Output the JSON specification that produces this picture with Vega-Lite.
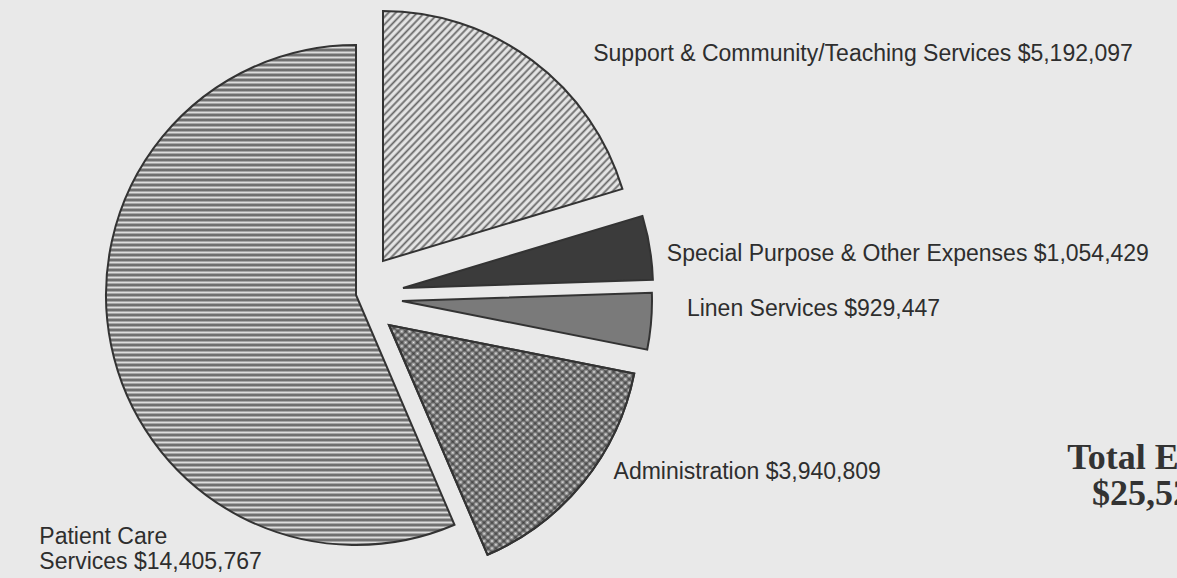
{
  "$schema": "https://vega.github.io/schema/vega-lite/v6.json",
  "width": 712,
  "height": 566,
  "autosize": {"type": "none"},
  "padding": {"left": 0, "top": 12, "right": 465, "bottom": 0},
  "background": "#e9e9e9",
  "config": {
    "view": {"stroke": null},
    "text": {"font": "Liberation Sans", "fontSize": 23, "color": "#2e2e2e"}
  },
  "title": {
    "text": ["Total Expenses", "$25,522,549"],
    "orient": "top",
    "anchor": "start",
    "frame": "group",
    "offset": 0,
    "dx": 1182,
    "dy": 536,
    "align": "center",
    "baseline": "alphabetic",
    "font": "Liberation Serif",
    "fontSize": 36,
    "fontWeight": "bold",
    "color": "#333333",
    "lineHeight": 36
  },
  "data": {
    "values": [
      {"category": "Support & Community/Teaching Services", "amount": 5192097},
      {"category": "Special Purpose & Other Expenses", "amount": 1054429},
      {"category": "Linen Services", "amount": 929447},
      {"category": "Administration", "amount": 3940809},
      {"category": "Patient Care Services", "amount": 14405767}
    ]
  },
  "encoding": {
    "theta": {"field": "amount", "type": "quantitative", "stack": true}
  },
  "layer": [
    {
      "mark": {"type": "arc", "outerRadius": 250, "xOffset": 0, "yOffset": 0, "stroke": "#333333", "strokeWidth": 2,
        "fill": {"gradient": "linear", "x1": 0, "y1": 0, "x2": 0, "y2": 1, "stops": [
{"offset":0,"color":"#555"},{"offset":0.005,"color":"#ddd"},{"offset":0.01,"color":"#555"},{"offset":0.015,"color":"#ddd"},{"offset":0.02,"color":"#555"},{"offset":0.025,"color":"#ddd"},{"offset":0.03,"color":"#555"},{"offset":0.035,"color":"#ddd"},{"offset":0.04,"color":"#555"},{"offset":0.045,"color":"#ddd"},
{"offset":0.05,"color":"#555"},{"offset":0.055,"color":"#ddd"},{"offset":0.06,"color":"#555"},{"offset":0.065,"color":"#ddd"},{"offset":0.07,"color":"#555"},{"offset":0.075,"color":"#ddd"},{"offset":0.08,"color":"#555"},{"offset":0.085,"color":"#ddd"},{"offset":0.09,"color":"#555"},{"offset":0.095,"color":"#ddd"},
{"offset":0.1,"color":"#555"},{"offset":0.105,"color":"#ddd"},{"offset":0.11,"color":"#555"},{"offset":0.115,"color":"#ddd"},{"offset":0.12,"color":"#555"},{"offset":0.125,"color":"#ddd"},{"offset":0.13,"color":"#555"},{"offset":0.135,"color":"#ddd"},{"offset":0.14,"color":"#555"},{"offset":0.145,"color":"#ddd"},
{"offset":0.15,"color":"#555"},{"offset":0.155,"color":"#ddd"},{"offset":0.16,"color":"#555"},{"offset":0.165,"color":"#ddd"},{"offset":0.17,"color":"#555"},{"offset":0.175,"color":"#ddd"},{"offset":0.18,"color":"#555"},{"offset":0.185,"color":"#ddd"},{"offset":0.19,"color":"#555"},{"offset":0.195,"color":"#ddd"},
{"offset":0.2,"color":"#555"},{"offset":0.205,"color":"#ddd"},{"offset":0.21,"color":"#555"},{"offset":0.215,"color":"#ddd"},{"offset":0.22,"color":"#555"},{"offset":0.225,"color":"#ddd"},{"offset":0.23,"color":"#555"},{"offset":0.235,"color":"#ddd"},{"offset":0.24,"color":"#555"},{"offset":0.245,"color":"#ddd"},
{"offset":0.25,"color":"#555"},{"offset":0.255,"color":"#ddd"},{"offset":0.26,"color":"#555"},{"offset":0.265,"color":"#ddd"},{"offset":0.27,"color":"#555"},{"offset":0.275,"color":"#ddd"},{"offset":0.28,"color":"#555"},{"offset":0.285,"color":"#ddd"},{"offset":0.29,"color":"#555"},{"offset":0.295,"color":"#ddd"},
{"offset":0.3,"color":"#555"},{"offset":0.305,"color":"#ddd"},{"offset":0.31,"color":"#555"},{"offset":0.315,"color":"#ddd"},{"offset":0.32,"color":"#555"},{"offset":0.325,"color":"#ddd"},{"offset":0.33,"color":"#555"},{"offset":0.335,"color":"#ddd"},{"offset":0.34,"color":"#555"},{"offset":0.345,"color":"#ddd"},
{"offset":0.35,"color":"#555"},{"offset":0.355,"color":"#ddd"},{"offset":0.36,"color":"#555"},{"offset":0.365,"color":"#ddd"},{"offset":0.37,"color":"#555"},{"offset":0.375,"color":"#ddd"},{"offset":0.38,"color":"#555"},{"offset":0.385,"color":"#ddd"},{"offset":0.39,"color":"#555"},{"offset":0.395,"color":"#ddd"},
{"offset":0.4,"color":"#555"},{"offset":0.405,"color":"#ddd"},{"offset":0.41,"color":"#555"},{"offset":0.415,"color":"#ddd"},{"offset":0.42,"color":"#555"},{"offset":0.425,"color":"#ddd"},{"offset":0.43,"color":"#555"},{"offset":0.435,"color":"#ddd"},{"offset":0.44,"color":"#555"},{"offset":0.445,"color":"#ddd"},
{"offset":0.45,"color":"#555"},{"offset":0.455,"color":"#ddd"},{"offset":0.46,"color":"#555"},{"offset":0.465,"color":"#ddd"},{"offset":0.47,"color":"#555"},{"offset":0.475,"color":"#ddd"},{"offset":0.48,"color":"#555"},{"offset":0.485,"color":"#ddd"},{"offset":0.49,"color":"#555"},{"offset":0.495,"color":"#ddd"},
{"offset":0.5,"color":"#555"},{"offset":0.505,"color":"#ddd"},{"offset":0.51,"color":"#555"},{"offset":0.515,"color":"#ddd"},{"offset":0.52,"color":"#555"},{"offset":0.525,"color":"#ddd"},{"offset":0.53,"color":"#555"},{"offset":0.535,"color":"#ddd"},{"offset":0.54,"color":"#555"},{"offset":0.545,"color":"#ddd"},
{"offset":0.55,"color":"#555"},{"offset":0.555,"color":"#ddd"},{"offset":0.56,"color":"#555"},{"offset":0.565,"color":"#ddd"},{"offset":0.57,"color":"#555"},{"offset":0.575,"color":"#ddd"},{"offset":0.58,"color":"#555"},{"offset":0.585,"color":"#ddd"},{"offset":0.59,"color":"#555"},{"offset":0.595,"color":"#ddd"},
{"offset":0.6,"color":"#555"},{"offset":0.605,"color":"#ddd"},{"offset":0.61,"color":"#555"},{"offset":0.615,"color":"#ddd"},{"offset":0.62,"color":"#555"},{"offset":0.625,"color":"#ddd"},{"offset":0.63,"color":"#555"},{"offset":0.635,"color":"#ddd"},{"offset":0.64,"color":"#555"},{"offset":0.645,"color":"#ddd"},
{"offset":0.65,"color":"#555"},{"offset":0.655,"color":"#ddd"},{"offset":0.66,"color":"#555"},{"offset":0.665,"color":"#ddd"},{"offset":0.67,"color":"#555"},{"offset":0.675,"color":"#ddd"},{"offset":0.68,"color":"#555"},{"offset":0.685,"color":"#ddd"},{"offset":0.69,"color":"#555"},{"offset":0.695,"color":"#ddd"},
{"offset":0.7,"color":"#555"},{"offset":0.705,"color":"#ddd"},{"offset":0.71,"color":"#555"},{"offset":0.715,"color":"#ddd"},{"offset":0.72,"color":"#555"},{"offset":0.725,"color":"#ddd"},{"offset":0.73,"color":"#555"},{"offset":0.735,"color":"#ddd"},{"offset":0.74,"color":"#555"},{"offset":0.745,"color":"#ddd"},
{"offset":0.75,"color":"#555"},{"offset":0.755,"color":"#ddd"},{"offset":0.76,"color":"#555"},{"offset":0.765,"color":"#ddd"},{"offset":0.77,"color":"#555"},{"offset":0.775,"color":"#ddd"},{"offset":0.78,"color":"#555"},{"offset":0.785,"color":"#ddd"},{"offset":0.79,"color":"#555"},{"offset":0.795,"color":"#ddd"},
{"offset":0.8,"color":"#555"},{"offset":0.805,"color":"#ddd"},{"offset":0.81,"color":"#555"},{"offset":0.815,"color":"#ddd"},{"offset":0.82,"color":"#555"},{"offset":0.825,"color":"#ddd"},{"offset":0.83,"color":"#555"},{"offset":0.835,"color":"#ddd"},{"offset":0.84,"color":"#555"},{"offset":0.845,"color":"#ddd"},
{"offset":0.85,"color":"#555"},{"offset":0.855,"color":"#ddd"},{"offset":0.86,"color":"#555"},{"offset":0.865,"color":"#ddd"},{"offset":0.87,"color":"#555"},{"offset":0.875,"color":"#ddd"},{"offset":0.88,"color":"#555"},{"offset":0.885,"color":"#ddd"},{"offset":0.89,"color":"#555"},{"offset":0.895,"color":"#ddd"},
{"offset":0.9,"color":"#555"},{"offset":0.905,"color":"#ddd"},{"offset":0.91,"color":"#555"},{"offset":0.915,"color":"#ddd"},{"offset":0.92,"color":"#555"},{"offset":0.925,"color":"#ddd"},{"offset":0.93,"color":"#555"},{"offset":0.935,"color":"#ddd"},{"offset":0.94,"color":"#555"},{"offset":0.945,"color":"#ddd"},
{"offset":0.95,"color":"#555"},{"offset":0.955,"color":"#ddd"},{"offset":0.96,"color":"#555"},{"offset":0.965,"color":"#ddd"},{"offset":0.97,"color":"#555"},{"offset":0.975,"color":"#ddd"},{"offset":0.98,"color":"#555"},{"offset":0.985,"color":"#ddd"},{"offset":0.99,"color":"#555"},{"offset":0.995,"color":"#ddd"},
{"offset":1,"color":"#555"}
        ]}},
      "encoding": {"opacity": {"condition": {"test": "datum.category === 'Patient Care Services'", "value": 1}, "value": 0}}
    },
    {
      "mark": {"type": "arc", "outerRadius": 250, "xOffset": 27, "yOffset": -34, "stroke": "#333333", "strokeWidth": 2,
        "fill": {"gradient": "linear", "x1": 0, "y1": 0, "x2": 1, "y2": 1, "stops": [
{"offset":0,"color":"#666"},{"offset":0.005,"color":"#e4e4e4"},{"offset":0.01,"color":"#e4e4e4"},{"offset":0.015,"color":"#666"},{"offset":0.02,"color":"#e4e4e4"},{"offset":0.025,"color":"#e4e4e4"},{"offset":0.03,"color":"#666"},{"offset":0.035,"color":"#e4e4e4"},{"offset":0.04,"color":"#e4e4e4"},
{"offset":0.045,"color":"#666"},{"offset":0.05,"color":"#e4e4e4"},{"offset":0.055,"color":"#e4e4e4"},{"offset":0.06,"color":"#666"},{"offset":0.065,"color":"#e4e4e4"},{"offset":0.07,"color":"#e4e4e4"},{"offset":0.075,"color":"#666"},{"offset":0.08,"color":"#e4e4e4"},{"offset":0.085,"color":"#e4e4e4"},
{"offset":0.09,"color":"#666"},{"offset":0.095,"color":"#e4e4e4"},{"offset":0.1,"color":"#e4e4e4"},{"offset":0.105,"color":"#666"},{"offset":0.11,"color":"#e4e4e4"},{"offset":0.115,"color":"#e4e4e4"},{"offset":0.12,"color":"#666"},{"offset":0.125,"color":"#e4e4e4"},{"offset":0.13,"color":"#e4e4e4"},
{"offset":0.135,"color":"#666"},{"offset":0.14,"color":"#e4e4e4"},{"offset":0.145,"color":"#e4e4e4"},{"offset":0.15,"color":"#666"},{"offset":0.155,"color":"#e4e4e4"},{"offset":0.16,"color":"#e4e4e4"},{"offset":0.165,"color":"#666"},{"offset":0.17,"color":"#e4e4e4"},{"offset":0.175,"color":"#e4e4e4"},
{"offset":0.18,"color":"#666"},{"offset":0.185,"color":"#e4e4e4"},{"offset":0.19,"color":"#e4e4e4"},{"offset":0.195,"color":"#666"},{"offset":0.2,"color":"#e4e4e4"},{"offset":0.205,"color":"#e4e4e4"},{"offset":0.21,"color":"#666"},{"offset":0.215,"color":"#e4e4e4"},{"offset":0.22,"color":"#e4e4e4"},
{"offset":0.225,"color":"#666"},{"offset":0.23,"color":"#e4e4e4"},{"offset":0.235,"color":"#e4e4e4"},{"offset":0.24,"color":"#666"},{"offset":0.245,"color":"#e4e4e4"},{"offset":0.25,"color":"#e4e4e4"},{"offset":0.255,"color":"#666"},{"offset":0.26,"color":"#e4e4e4"},{"offset":0.265,"color":"#e4e4e4"},
{"offset":0.27,"color":"#666"},{"offset":0.275,"color":"#e4e4e4"},{"offset":0.28,"color":"#e4e4e4"},{"offset":0.285,"color":"#666"},{"offset":0.29,"color":"#e4e4e4"},{"offset":0.295,"color":"#e4e4e4"},{"offset":0.3,"color":"#666"},{"offset":0.305,"color":"#e4e4e4"},{"offset":0.31,"color":"#e4e4e4"},
{"offset":0.315,"color":"#666"},{"offset":0.32,"color":"#e4e4e4"},{"offset":0.325,"color":"#e4e4e4"},{"offset":0.33,"color":"#666"},{"offset":0.335,"color":"#e4e4e4"},{"offset":0.34,"color":"#e4e4e4"},{"offset":0.345,"color":"#666"},{"offset":0.35,"color":"#e4e4e4"},{"offset":0.355,"color":"#e4e4e4"},
{"offset":0.36,"color":"#666"},{"offset":0.365,"color":"#e4e4e4"},{"offset":0.37,"color":"#e4e4e4"},{"offset":0.375,"color":"#666"},{"offset":0.38,"color":"#e4e4e4"},{"offset":0.385,"color":"#e4e4e4"},{"offset":0.39,"color":"#666"},{"offset":0.395,"color":"#e4e4e4"},{"offset":0.4,"color":"#e4e4e4"},
{"offset":0.405,"color":"#666"},{"offset":0.41,"color":"#e4e4e4"},{"offset":0.415,"color":"#e4e4e4"},{"offset":0.42,"color":"#666"},{"offset":0.425,"color":"#e4e4e4"},{"offset":0.43,"color":"#e4e4e4"},{"offset":0.435,"color":"#666"},{"offset":0.44,"color":"#e4e4e4"},{"offset":0.445,"color":"#e4e4e4"},
{"offset":0.45,"color":"#666"},{"offset":0.455,"color":"#e4e4e4"},{"offset":0.46,"color":"#e4e4e4"},{"offset":0.465,"color":"#666"},{"offset":0.47,"color":"#e4e4e4"},{"offset":0.475,"color":"#e4e4e4"},{"offset":0.48,"color":"#666"},{"offset":0.485,"color":"#e4e4e4"},{"offset":0.49,"color":"#e4e4e4"},
{"offset":0.495,"color":"#666"},{"offset":0.5,"color":"#e4e4e4"},{"offset":0.505,"color":"#e4e4e4"},{"offset":0.51,"color":"#666"},{"offset":0.515,"color":"#e4e4e4"},{"offset":0.52,"color":"#e4e4e4"},{"offset":0.525,"color":"#666"},{"offset":0.53,"color":"#e4e4e4"},{"offset":0.535,"color":"#e4e4e4"},
{"offset":0.54,"color":"#666"},{"offset":0.545,"color":"#e4e4e4"},{"offset":0.55,"color":"#e4e4e4"},{"offset":0.555,"color":"#666"},{"offset":0.56,"color":"#e4e4e4"},{"offset":0.565,"color":"#e4e4e4"},{"offset":0.57,"color":"#666"},{"offset":0.575,"color":"#e4e4e4"},{"offset":0.58,"color":"#e4e4e4"},
{"offset":0.585,"color":"#666"},{"offset":0.59,"color":"#e4e4e4"},{"offset":0.595,"color":"#e4e4e4"},{"offset":0.6,"color":"#666"},{"offset":0.605,"color":"#e4e4e4"},{"offset":0.61,"color":"#e4e4e4"},{"offset":0.615,"color":"#666"},{"offset":0.62,"color":"#e4e4e4"},{"offset":0.625,"color":"#e4e4e4"},
{"offset":0.63,"color":"#666"},{"offset":0.635,"color":"#e4e4e4"},{"offset":0.64,"color":"#e4e4e4"},{"offset":0.645,"color":"#666"},{"offset":0.65,"color":"#e4e4e4"},{"offset":0.655,"color":"#e4e4e4"},{"offset":0.66,"color":"#666"},{"offset":0.665,"color":"#e4e4e4"},{"offset":0.67,"color":"#e4e4e4"},
{"offset":0.675,"color":"#666"},{"offset":0.68,"color":"#e4e4e4"},{"offset":0.685,"color":"#e4e4e4"},{"offset":0.69,"color":"#666"},{"offset":0.695,"color":"#e4e4e4"},{"offset":0.7,"color":"#e4e4e4"},{"offset":0.705,"color":"#666"},{"offset":0.71,"color":"#e4e4e4"},{"offset":0.715,"color":"#e4e4e4"},
{"offset":0.72,"color":"#666"},{"offset":0.725,"color":"#e4e4e4"},{"offset":0.73,"color":"#e4e4e4"},{"offset":0.735,"color":"#666"},{"offset":0.74,"color":"#e4e4e4"},{"offset":0.745,"color":"#e4e4e4"},{"offset":0.75,"color":"#666"},{"offset":0.755,"color":"#e4e4e4"},{"offset":0.76,"color":"#e4e4e4"},
{"offset":0.765,"color":"#666"},{"offset":0.77,"color":"#e4e4e4"},{"offset":0.775,"color":"#e4e4e4"},{"offset":0.78,"color":"#666"},{"offset":0.785,"color":"#e4e4e4"},{"offset":0.79,"color":"#e4e4e4"},{"offset":0.795,"color":"#666"},{"offset":0.8,"color":"#e4e4e4"},{"offset":0.805,"color":"#e4e4e4"},
{"offset":0.81,"color":"#666"},{"offset":0.815,"color":"#e4e4e4"},{"offset":0.82,"color":"#e4e4e4"},{"offset":0.825,"color":"#666"},{"offset":0.83,"color":"#e4e4e4"},{"offset":0.835,"color":"#e4e4e4"},{"offset":0.84,"color":"#666"},{"offset":0.845,"color":"#e4e4e4"},{"offset":0.85,"color":"#e4e4e4"},
{"offset":0.855,"color":"#666"},{"offset":0.86,"color":"#e4e4e4"},{"offset":0.865,"color":"#e4e4e4"},{"offset":0.87,"color":"#666"},{"offset":0.875,"color":"#e4e4e4"},{"offset":0.88,"color":"#e4e4e4"},{"offset":0.885,"color":"#666"},{"offset":0.89,"color":"#e4e4e4"},{"offset":0.895,"color":"#e4e4e4"},
{"offset":0.9,"color":"#666"},{"offset":0.905,"color":"#e4e4e4"},{"offset":0.91,"color":"#e4e4e4"},{"offset":0.915,"color":"#666"},{"offset":0.92,"color":"#e4e4e4"},{"offset":0.925,"color":"#e4e4e4"},{"offset":0.93,"color":"#666"},{"offset":0.935,"color":"#e4e4e4"},{"offset":0.94,"color":"#e4e4e4"},
{"offset":0.945,"color":"#666"},{"offset":0.95,"color":"#e4e4e4"},{"offset":0.955,"color":"#e4e4e4"},{"offset":0.96,"color":"#666"},{"offset":0.965,"color":"#e4e4e4"},{"offset":0.97,"color":"#e4e4e4"},{"offset":0.975,"color":"#666"},{"offset":0.98,"color":"#e4e4e4"},{"offset":0.985,"color":"#e4e4e4"},
{"offset":0.99,"color":"#666"},{"offset":0.995,"color":"#e4e4e4"},{"offset":1,"color":"#e4e4e4"}
        ]}},
      "encoding": {"opacity": {"condition": {"test": "datum.category === 'Support & Community/Teaching Services'", "value": 1}, "value": 0}}
    },
    {
      "mark": {"type": "arc", "outerRadius": 250, "xOffset": 47, "yOffset": -7, "fill": "#3b3b3b", "stroke": "#333333", "strokeWidth": 2},
      "encoding": {"opacity": {"condition": {"test": "datum.category === 'Special Purpose & Other Expenses'", "value": 1}, "value": 0}}
    },
    {
      "mark": {"type": "arc", "outerRadius": 250, "xOffset": 46, "yOffset": 6, "fill": "#7a7a7a", "stroke": "#333333", "strokeWidth": 2},
      "encoding": {"opacity": {"condition": {"test": "datum.category === 'Linen Services'", "value": 1}, "value": 0}}
    },
    {
      "mark": {"type": "arc", "outerRadius": 250, "xOffset": 33, "yOffset": 30, "fill": "#e2e2e2", "stroke": "#333333", "strokeWidth": 2},
      "encoding": {"opacity": {"condition": {"test": "datum.category === 'Administration'", "value": 1}, "value": 0}}
    },
    {
      "mark": {"type": "arc", "outerRadius": 250, "xOffset": 33, "yOffset": 30, "strokeWidth": 0,
        "fill": {"gradient": "linear", "x1": 0, "y1": 0, "x2": 1, "y2": 1, "stops": [
{"offset":0,"color":"#333333b3"},{"offset":0.008,"color":"#33333300"},{"offset":0.016,"color":"#333333b3"},{"offset":0.024,"color":"#33333300"},{"offset":0.032,"color":"#333333b3"},{"offset":0.04,"color":"#33333300"},{"offset":0.048,"color":"#333333b3"},{"offset":0.056,"color":"#33333300"},{"offset":0.064,"color":"#333333b3"},{"offset":0.072,"color":"#33333300"},
{"offset":0.08,"color":"#333333b3"},{"offset":0.088,"color":"#33333300"},{"offset":0.096,"color":"#333333b3"},{"offset":0.104,"color":"#33333300"},{"offset":0.112,"color":"#333333b3"},{"offset":0.12,"color":"#33333300"},{"offset":0.128,"color":"#333333b3"},{"offset":0.136,"color":"#33333300"},{"offset":0.144,"color":"#333333b3"},{"offset":0.152,"color":"#33333300"},
{"offset":0.16,"color":"#333333b3"},{"offset":0.168,"color":"#33333300"},{"offset":0.176,"color":"#333333b3"},{"offset":0.184,"color":"#33333300"},{"offset":0.192,"color":"#333333b3"},{"offset":0.2,"color":"#33333300"},{"offset":0.208,"color":"#333333b3"},{"offset":0.216,"color":"#33333300"},{"offset":0.224,"color":"#333333b3"},{"offset":0.232,"color":"#33333300"},
{"offset":0.24,"color":"#333333b3"},{"offset":0.248,"color":"#33333300"},{"offset":0.256,"color":"#333333b3"},{"offset":0.264,"color":"#33333300"},{"offset":0.272,"color":"#333333b3"},{"offset":0.28,"color":"#33333300"},{"offset":0.288,"color":"#333333b3"},{"offset":0.296,"color":"#33333300"},{"offset":0.304,"color":"#333333b3"},{"offset":0.312,"color":"#33333300"},
{"offset":0.32,"color":"#333333b3"},{"offset":0.328,"color":"#33333300"},{"offset":0.336,"color":"#333333b3"},{"offset":0.344,"color":"#33333300"},{"offset":0.352,"color":"#333333b3"},{"offset":0.36,"color":"#33333300"},{"offset":0.368,"color":"#333333b3"},{"offset":0.376,"color":"#33333300"},{"offset":0.384,"color":"#333333b3"},{"offset":0.392,"color":"#33333300"},
{"offset":0.4,"color":"#333333b3"},{"offset":0.408,"color":"#33333300"},{"offset":0.416,"color":"#333333b3"},{"offset":0.424,"color":"#33333300"},{"offset":0.432,"color":"#333333b3"},{"offset":0.44,"color":"#33333300"},{"offset":0.448,"color":"#333333b3"},{"offset":0.456,"color":"#33333300"},{"offset":0.464,"color":"#333333b3"},{"offset":0.472,"color":"#33333300"},
{"offset":0.48,"color":"#333333b3"},{"offset":0.488,"color":"#33333300"},{"offset":0.496,"color":"#333333b3"},{"offset":0.504,"color":"#33333300"},{"offset":0.512,"color":"#333333b3"},{"offset":0.52,"color":"#33333300"},{"offset":0.528,"color":"#333333b3"},{"offset":0.536,"color":"#33333300"},{"offset":0.544,"color":"#333333b3"},{"offset":0.552,"color":"#33333300"},
{"offset":0.56,"color":"#333333b3"},{"offset":0.568,"color":"#33333300"},{"offset":0.576,"color":"#333333b3"},{"offset":0.584,"color":"#33333300"},{"offset":0.592,"color":"#333333b3"},{"offset":0.6,"color":"#33333300"},{"offset":0.608,"color":"#333333b3"},{"offset":0.616,"color":"#33333300"},{"offset":0.624,"color":"#333333b3"},{"offset":0.632,"color":"#33333300"},
{"offset":0.64,"color":"#333333b3"},{"offset":0.648,"color":"#33333300"},{"offset":0.656,"color":"#333333b3"},{"offset":0.664,"color":"#33333300"},{"offset":0.672,"color":"#333333b3"},{"offset":0.68,"color":"#33333300"},{"offset":0.688,"color":"#333333b3"},{"offset":0.696,"color":"#33333300"},{"offset":0.704,"color":"#333333b3"},{"offset":0.712,"color":"#33333300"},
{"offset":0.72,"color":"#333333b3"},{"offset":0.728,"color":"#33333300"},{"offset":0.736,"color":"#333333b3"},{"offset":0.744,"color":"#33333300"},{"offset":0.752,"color":"#333333b3"},{"offset":0.76,"color":"#33333300"},{"offset":0.768,"color":"#333333b3"},{"offset":0.776,"color":"#33333300"},{"offset":0.784,"color":"#333333b3"},{"offset":0.792,"color":"#33333300"},
{"offset":0.8,"color":"#333333b3"},{"offset":0.808,"color":"#33333300"},{"offset":0.816,"color":"#333333b3"},{"offset":0.824,"color":"#33333300"},{"offset":0.832,"color":"#333333b3"},{"offset":0.84,"color":"#33333300"},{"offset":0.848,"color":"#333333b3"},{"offset":0.856,"color":"#33333300"},{"offset":0.864,"color":"#333333b3"},{"offset":0.872,"color":"#33333300"},
{"offset":0.88,"color":"#333333b3"},{"offset":0.888,"color":"#33333300"},{"offset":0.896,"color":"#333333b3"},{"offset":0.904,"color":"#33333300"},{"offset":0.912,"color":"#333333b3"},{"offset":0.92,"color":"#33333300"},{"offset":0.928,"color":"#333333b3"},{"offset":0.936,"color":"#33333300"},{"offset":0.944,"color":"#333333b3"},{"offset":0.952,"color":"#33333300"},
{"offset":0.96,"color":"#333333b3"},{"offset":0.968,"color":"#33333300"},{"offset":0.976,"color":"#333333b3"},{"offset":0.984,"color":"#33333300"},{"offset":0.992,"color":"#333333b3"},{"offset":1,"color":"#33333300"}
        ]}},
      "encoding": {"opacity": {"condition": {"test": "datum.category === 'Administration'", "value": 1}, "value": 0}}
    },
    {
      "mark": {"type": "arc", "outerRadius": 250, "xOffset": 33, "yOffset": 30, "stroke": "#333333", "strokeWidth": 2,
        "fill": {"gradient": "linear", "x1": 1, "y1": 0, "x2": 0, "y2": 1, "stops": [
{"offset":0,"color":"#333333b3"},{"offset":0.008,"color":"#33333300"},{"offset":0.016,"color":"#333333b3"},{"offset":0.024,"color":"#33333300"},{"offset":0.032,"color":"#333333b3"},{"offset":0.04,"color":"#33333300"},{"offset":0.048,"color":"#333333b3"},{"offset":0.056,"color":"#33333300"},{"offset":0.064,"color":"#333333b3"},{"offset":0.072,"color":"#33333300"},
{"offset":0.08,"color":"#333333b3"},{"offset":0.088,"color":"#33333300"},{"offset":0.096,"color":"#333333b3"},{"offset":0.104,"color":"#33333300"},{"offset":0.112,"color":"#333333b3"},{"offset":0.12,"color":"#33333300"},{"offset":0.128,"color":"#333333b3"},{"offset":0.136,"color":"#33333300"},{"offset":0.144,"color":"#333333b3"},{"offset":0.152,"color":"#33333300"},
{"offset":0.16,"color":"#333333b3"},{"offset":0.168,"color":"#33333300"},{"offset":0.176,"color":"#333333b3"},{"offset":0.184,"color":"#33333300"},{"offset":0.192,"color":"#333333b3"},{"offset":0.2,"color":"#33333300"},{"offset":0.208,"color":"#333333b3"},{"offset":0.216,"color":"#33333300"},{"offset":0.224,"color":"#333333b3"},{"offset":0.232,"color":"#33333300"},
{"offset":0.24,"color":"#333333b3"},{"offset":0.248,"color":"#33333300"},{"offset":0.256,"color":"#333333b3"},{"offset":0.264,"color":"#33333300"},{"offset":0.272,"color":"#333333b3"},{"offset":0.28,"color":"#33333300"},{"offset":0.288,"color":"#333333b3"},{"offset":0.296,"color":"#33333300"},{"offset":0.304,"color":"#333333b3"},{"offset":0.312,"color":"#33333300"},
{"offset":0.32,"color":"#333333b3"},{"offset":0.328,"color":"#33333300"},{"offset":0.336,"color":"#333333b3"},{"offset":0.344,"color":"#33333300"},{"offset":0.352,"color":"#333333b3"},{"offset":0.36,"color":"#33333300"},{"offset":0.368,"color":"#333333b3"},{"offset":0.376,"color":"#33333300"},{"offset":0.384,"color":"#333333b3"},{"offset":0.392,"color":"#33333300"},
{"offset":0.4,"color":"#333333b3"},{"offset":0.408,"color":"#33333300"},{"offset":0.416,"color":"#333333b3"},{"offset":0.424,"color":"#33333300"},{"offset":0.432,"color":"#333333b3"},{"offset":0.44,"color":"#33333300"},{"offset":0.448,"color":"#333333b3"},{"offset":0.456,"color":"#33333300"},{"offset":0.464,"color":"#333333b3"},{"offset":0.472,"color":"#33333300"},
{"offset":0.48,"color":"#333333b3"},{"offset":0.488,"color":"#33333300"},{"offset":0.496,"color":"#333333b3"},{"offset":0.504,"color":"#33333300"},{"offset":0.512,"color":"#333333b3"},{"offset":0.52,"color":"#33333300"},{"offset":0.528,"color":"#333333b3"},{"offset":0.536,"color":"#33333300"},{"offset":0.544,"color":"#333333b3"},{"offset":0.552,"color":"#33333300"},
{"offset":0.56,"color":"#333333b3"},{"offset":0.568,"color":"#33333300"},{"offset":0.576,"color":"#333333b3"},{"offset":0.584,"color":"#33333300"},{"offset":0.592,"color":"#333333b3"},{"offset":0.6,"color":"#33333300"},{"offset":0.608,"color":"#333333b3"},{"offset":0.616,"color":"#33333300"},{"offset":0.624,"color":"#333333b3"},{"offset":0.632,"color":"#33333300"},
{"offset":0.64,"color":"#333333b3"},{"offset":0.648,"color":"#33333300"},{"offset":0.656,"color":"#333333b3"},{"offset":0.664,"color":"#33333300"},{"offset":0.672,"color":"#333333b3"},{"offset":0.68,"color":"#33333300"},{"offset":0.688,"color":"#333333b3"},{"offset":0.696,"color":"#33333300"},{"offset":0.704,"color":"#333333b3"},{"offset":0.712,"color":"#33333300"},
{"offset":0.72,"color":"#333333b3"},{"offset":0.728,"color":"#33333300"},{"offset":0.736,"color":"#333333b3"},{"offset":0.744,"color":"#33333300"},{"offset":0.752,"color":"#333333b3"},{"offset":0.76,"color":"#33333300"},{"offset":0.768,"color":"#333333b3"},{"offset":0.776,"color":"#33333300"},{"offset":0.784,"color":"#333333b3"},{"offset":0.792,"color":"#33333300"},
{"offset":0.8,"color":"#333333b3"},{"offset":0.808,"color":"#33333300"},{"offset":0.816,"color":"#333333b3"},{"offset":0.824,"color":"#33333300"},{"offset":0.832,"color":"#333333b3"},{"offset":0.84,"color":"#33333300"},{"offset":0.848,"color":"#333333b3"},{"offset":0.856,"color":"#33333300"},{"offset":0.864,"color":"#333333b3"},{"offset":0.872,"color":"#33333300"},
{"offset":0.88,"color":"#333333b3"},{"offset":0.888,"color":"#33333300"},{"offset":0.896,"color":"#333333b3"},{"offset":0.904,"color":"#33333300"},{"offset":0.912,"color":"#333333b3"},{"offset":0.92,"color":"#33333300"},{"offset":0.928,"color":"#333333b3"},{"offset":0.936,"color":"#33333300"},{"offset":0.944,"color":"#333333b3"},{"offset":0.952,"color":"#33333300"},
{"offset":0.96,"color":"#333333b3"},{"offset":0.968,"color":"#33333300"},{"offset":0.976,"color":"#333333b3"},{"offset":0.984,"color":"#33333300"},{"offset":0.992,"color":"#333333b3"},{"offset":1,"color":"#33333300"}
        ]}},
      "encoding": {"opacity": {"condition": {"test": "datum.category === 'Administration'", "value": 1}, "value": 0}}
    },
    {
      "mark": {"type": "text", "radius": 329, "align": "left", "baseline": "alphabetic", "dx": 41, "dy": 30},
      "encoding": {"text": {"condition": {"test": "datum.category === 'Support & Community/Teaching Services'", "value": "Support & Community/Teaching Services $5,192,097"}, "value": ""}}
    },
    {
      "mark": {"type": "text", "radius": 312, "align": "left", "baseline": "alphabetic", "dx": 3, "dy": 17},
      "encoding": {"text": {"condition": {"test": "datum.category === 'Special Purpose & Other Expenses'", "value": "Special Purpose & Other Expenses $1,054,429"}, "value": ""}}
    },
    {
      "mark": {"type": "text", "radius": 332, "align": "left", "baseline": "alphabetic", "dx": 0, "dy": -6},
      "encoding": {"text": {"condition": {"test": "datum.category === 'Linen Services'", "value": "Linen Services $929,447"}, "value": ""}}
    },
    {
      "mark": {"type": "text", "radius": 316, "align": "left", "baseline": "alphabetic", "dx": 12, "dy": -15},
      "encoding": {"text": {"condition": {"test": "datum.category === 'Administration'", "value": "Administration $3,940,809"}, "value": ""}}
    },
    {
      "mark": {"type": "text", "radius": 360, "align": "left", "baseline": "alphabetic", "dx": 36, "dy": 177, "lineHeight": 25},
      "encoding": {"text": {"condition": {"test": "datum.category === 'Patient Care Services'", "value": ["Patient Care", "Services $14,405,767"]}, "value": ""}}
    }
  ]
}
